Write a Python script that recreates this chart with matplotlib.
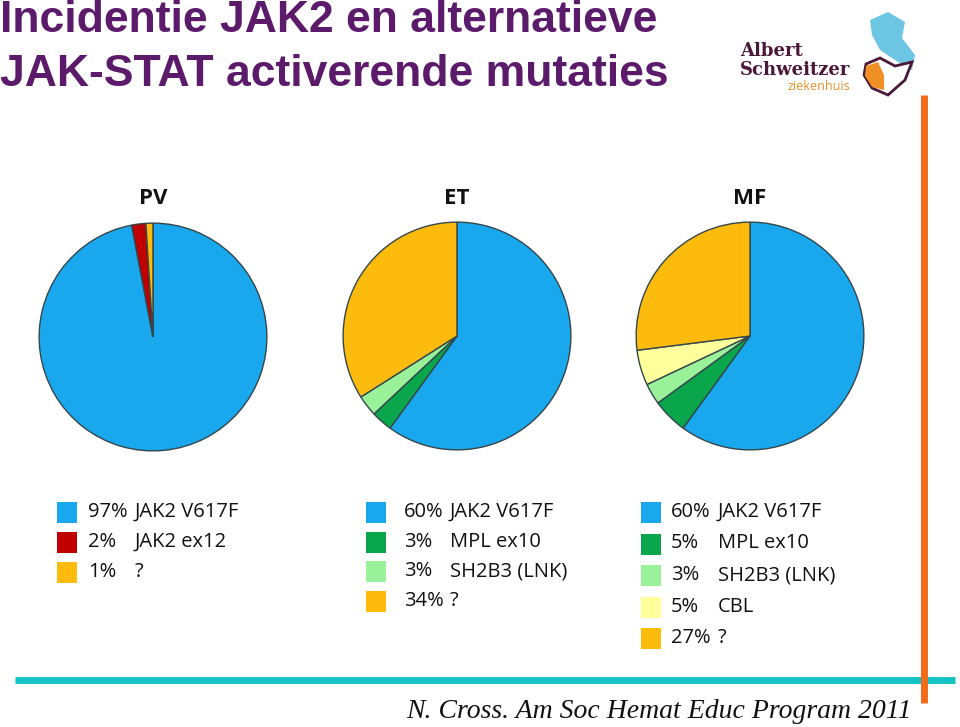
import matplotlib
matplotlib.use("Agg")
import matplotlib.pyplot as plt
from matplotlib.patches import Rectangle, Polygon

# data
groups = ["PV", "ET", "MF"]
pv_vals = [97, 2, 1]
pv_labels = ["JAK2 V617F", "JAK2 ex12", "?"]
et_vals = [60, 3, 3, 34]
et_labels = ["JAK2 V617F", "MPL ex10", "SH2B3 (LNK)", "?"]
mf_vals = [60, 5, 3, 5, 27]
mf_labels = ["JAK2 V617F", "MPL ex10", "SH2B3 (LNK)", "CBL", "?"]

c_blue = "#19a8ee"
c_red = "#c00000"
c_orange = "#fdbb0e"
c_dgreen = "#0aa64b"
c_lgreen = "#99f19a"
c_pale = "#ffff9c"
pv_cols = [c_blue, c_red, c_orange]
et_cols = [c_blue, c_dgreen, c_lgreen, c_orange]
mf_cols = [c_blue, c_dgreen, c_lgreen, c_pale, c_orange]

W, H = 960, 727
fig = plt.figure(figsize=(W / 100, H / 100), dpi=100)
bg = fig.add_axes([0, 0, 1, 1])
bg.set_xlim(0, W)
bg.set_ylim(H, 0)
bg.axis("off")

purple = "#5c1a6b"
bg.text(0, 21, "Incidentie JAK2 en alternatieve", fontsize=32, fontweight="bold",
        color=purple, family="Liberation Sans", va="center", ha="left")
bg.text(0, 74, "JAK-STAT activerende mutaties", fontsize=32, fontweight="bold",
        color=purple, family="Liberation Sans", va="center", ha="left")

# logo (rough)
bg.text(740, 51, "Albert", fontsize=13, fontweight="bold", family="DejaVu Serif",
        color="#4a1838", va="center")
bg.text(740, 70, "Schweitzer", fontsize=13, fontweight="bold", family="DejaVu Serif",
        color="#4a1838", va="center")
bg.text(788, 87, "ziekenhuis", fontsize=9, family="Open Sans", color="#e8902a", va="center")
bg.add_patch(Polygon([(870, 20), (888, 12), (905, 22), (902, 38), (915, 55), (912, 70),
                      (895, 60), (880, 50), (872, 35)], closed=True, fc="#6cc5e3", ec="none"))
bg.add_patch(Polygon([(866, 64), (880, 58), (895, 66), (912, 62), (905, 80), (888, 95),
                      (872, 88), (864, 75)], closed=True, fc="white", ec="#4a1838", lw=2))
bg.add_patch(Polygon([(866, 66), (878, 62), (884, 75), (884, 90), (872, 87), (865, 76)],
                     closed=True, fc="#ef8f24", ec="none"))

# pies
centers = [(153, 337), (457, 336), (750, 336)]
radius = 115
for name, vals, cols, (cx, cy) in zip(groups, [pv_vals, et_vals, mf_vals],
                                      [pv_cols, et_cols, mf_cols], centers):
    ax = fig.add_axes([(cx - radius) / W, 1 - (cy + radius) / H, 2 * radius / W, 2 * radius / H])
    ax.pie(vals, colors=cols, startangle=90, counterclock=False,
           wedgeprops=dict(edgecolor="#34464a", linewidth=1.0))
    ax.set_xlim(-1.01, 1.01)
    ax.set_ylim(-1.01, 1.01)
    bg.text(cx, 198, name, fontsize=16, fontweight="bold", family="Open Sans",
            ha="center", va="center", color="#111111")

# legends: square x, first row y, row step, values, labels, colours, pct x, label x
legends = [
    (57, 512, 30, pv_vals, pv_labels, pv_cols, 88, 135),
    (366, 512, 29.7, et_vals, et_labels, et_cols, 404, 450),
    (641, 512, 31.5, mf_vals, mf_labels, mf_cols, 671, 718),
]
for x0, y0, dy, vals, labs, cols, px, lx in legends:
    for i, (v, lab, col) in enumerate(zip(vals, labs, cols)):
        y = y0 + i * dy
        bg.add_patch(Rectangle((x0, y - 10), 20, 21, fc=col, ec="none"))
        bg.text(px, y, "%d%%" % v, fontsize=14.5, family="Open Sans",
                va="center", color="#111111")
        bg.text(lx, y, lab, fontsize=14.5, family="Open Sans",
                va="center", color="#111111")

# frame lines
bg.plot([15, 955], [680, 680], color="#14c4c4", lw=5, solid_capstyle="butt")
bg.plot([924, 924], [95, 703], color="#f26a1b", lw=5, solid_capstyle="butt")

bg.text(912, 711, "N. Cross. Am Soc Hemat Educ Program 2011", fontsize=20,
        style="italic", family="Liberation Serif", ha="right", va="center", color="#111111")

fig.savefig("out.png", dpi=100)
